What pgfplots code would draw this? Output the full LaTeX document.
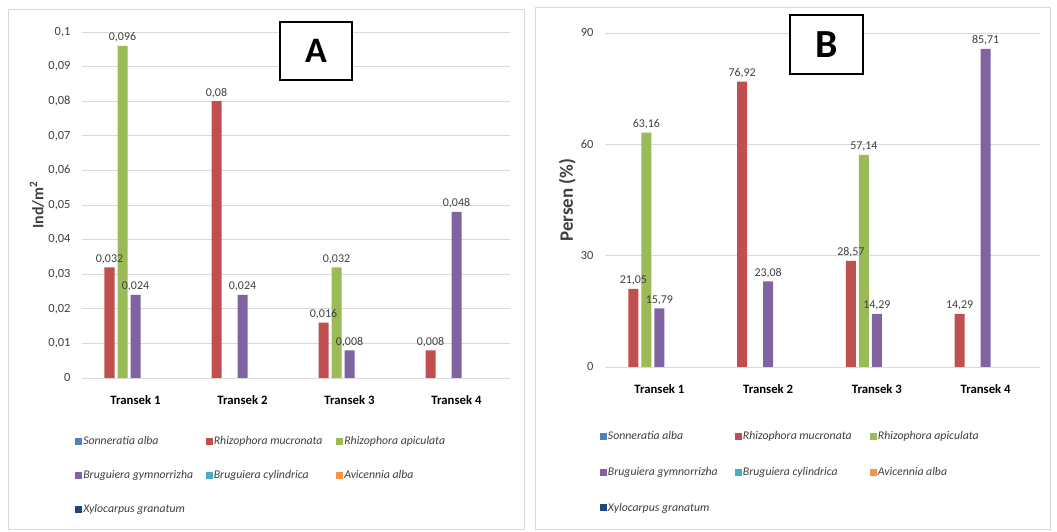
\documentclass[border=0pt]{standalone}
\usepackage{pgfplots}
\pgfplotsset{compat=1.18}
\usepackage{fontspec}
\setmainfont{Carlito}
\definecolor{cBlue}{HTML}{4F81BD}
\definecolor{cRed}{HTML}{C0504D}
\definecolor{cGreen}{HTML}{9BBB59}
\definecolor{cPurple}{HTML}{8064A2}
\definecolor{cAqua}{HTML}{4BACC6}
\definecolor{cOrange}{HTML}{F79646}
\definecolor{cNavy}{HTML}{1F497D}
\definecolor{gridc}{HTML}{D9D9D9}
\definecolor{txt}{HTML}{404040}
\pgfplotsset{
 mybar/.style={
  scale only axis, ybar=3bp, bar width=10bp,
  xmin=-0.5, xmax=3.5, xtick={0,1,2,3},
  xticklabels={Transek 1,Transek 2,Transek 3,Transek 4},
  axis line style={draw=none}, major tick length=0pt,
  ymajorgrids, grid style={gridc, line width=0.8bp},
  scaled y ticks=false,
  yticklabel style={font=\fontsize{12.5}{14}\selectfont, text=txt, xshift=-8bp},
  xticklabel style={font=\bfseries\fontsize{12.8}{14}\selectfont, yshift=-14bp, text=black},
  ylabel style={text=txt, anchor=center},
  /pgf/number format/.cd, use comma, assume math mode=true, /pgfplots/.cd,
  legend columns=3,
  legend style={draw=none, fill=none, inner sep=0pt, anchor=north west,
     nodes={inner sep=1bp, font=\itshape\fontsize{11.8}{13}\selectfont, text=txt}},
  legend cell align=left,
  legend image code/.code={\fill[##1] (0bp,-3.5bp) rectangle (7bp,3.5bp);},
  legend image post style={fill opacity=1},
  every node near coord/.append style={font=\fontsize{12}{14}\selectfont, text=txt},
  zerobar/.style={draw=none, fill opacity=0, nodes near coords={}},
 }
}
\begin{document}
\begin{tikzpicture}
\useasboundingbox (0,0) rectangle (1057bp,532bp);
\fill[white] (0,0) rectangle (1057bp,532bp);
\draw[gridc, line width=1bp] (8bp,2bp) rectangle (524bp,522bp);
\draw[gridc, line width=1bp] (535bp,2bp) rectangle (1050bp,524bp);
% Panel A
\begin{axis}[mybar, at={(82bp,154bp)}, anchor=south west, width=428bp, height=346bp,
  ymin=0, ymax=0.1, ytick={0,0.01,0.02,0.03,0.04,0.05,0.06,0.07,0.08,0.09,0.1},
  yticklabel style={/pgf/number format/fixed, /pgf/number format/precision=2},
  ylabel={Ind/m\textsuperscript{2}},
  ylabel style={at={(axis description cs:-0.105,0.5)}, font=\bfseries\fontsize{16}{18}\selectfont},
  nodes near coords={\pgfmathprintnumber[fixed,precision=3]{\pgfplotspointmeta}},
  legend style={at={(axis description cs:-0.016,-0.165)}, row sep=22.5bp},
]
\addplot[fill=cBlue, zerobar] coordinates {(0,0) (1,0) (2,0) (3,0)};
\addlegendentry{\makebox[121.5bp][l]{Sonneratia alba}}
\addplot[fill=cRed, draw=none] coordinates {(0,0.032) (1,0.08) (2,0.016) (3,0.008)};
\addlegendentry{\makebox[121.5bp][l]{Rhizophora mucronata}}
\addplot[fill=cGreen, draw=none] coordinates {(0,0.096) (2,0.032)};
\addlegendentry{\makebox[121.5bp][l]{Rhizophora apiculata}}
\addplot[fill=cPurple, draw=none] coordinates {(0,0.024) (1,0.024) (2,0.008) (3,0.048)};
\addlegendentry{\makebox[121.5bp][l]{Bruguiera gymnorrizha}}
\addplot[fill=cAqua, zerobar] coordinates {(0,0) (1,0) (2,0) (3,0)};
\addlegendentry{\makebox[121.5bp][l]{Bruguiera cylindrica}}
\addplot[fill=cOrange, zerobar] coordinates {(0,0) (1,0) (2,0) (3,0)};
\addlegendentry{\makebox[121.5bp][l]{Avicennia alba}}
\addplot[fill=cNavy, zerobar] coordinates {(0,0) (1,0) (2,0) (3,0)};
\addlegendentry{\makebox[121.5bp][l]{Xylocarpus granatum}}
\end{axis}
% Panel B
\begin{axis}[mybar, at={(605bp,165bp)}, anchor=south west, width=435bp, height=334bp,
  ymin=0, ymax=90, ytick={0,30,60,90},
  ylabel={Persen (\%)},
  ylabel style={at={(axis description cs:-0.087,0.5)}, font=\bfseries\fontsize{19}{21}\selectfont},
  nodes near coords={\pgfmathprintnumber[fixed,fixed zerofill,precision=2]{\pgfplotspointmeta}},
  legend style={at={(axis description cs:-0.012,-0.19)}, row sep=24bp},
]
\addplot[fill=cBlue, zerobar] coordinates {(0,0) (1,0) (2,0) (3,0)};
\addlegendentry{\makebox[126bp][l]{Sonneratia alba}}
\addplot[fill=cRed, draw=none] coordinates {(0,21.05) (1,76.92) (2,28.57) (3,14.29)};
\addlegendentry{\makebox[126bp][l]{Rhizophora mucronata}}
\addplot[fill=cGreen, draw=none] coordinates {(0,63.16) (2,57.14)};
\addlegendentry{\makebox[126bp][l]{Rhizophora apiculata}}
\addplot[fill=cPurple, draw=none] coordinates {(0,15.79) (1,23.08) (2,14.29) (3,85.71)};
\addlegendentry{\makebox[126bp][l]{Bruguiera gymnorrizha}}
\addplot[fill=cAqua, zerobar] coordinates {(0,0) (1,0) (2,0) (3,0)};
\addlegendentry{\makebox[126bp][l]{Bruguiera cylindrica}}
\addplot[fill=cOrange, zerobar] coordinates {(0,0) (1,0) (2,0) (3,0)};
\addlegendentry{\makebox[126bp][l]{Avicennia alba}}
\addplot[fill=cNavy, zerobar] coordinates {(0,0) (1,0) (2,0) (3,0)};
\addlegendentry{\makebox[126bp][l]{Xylocarpus granatum}}
\end{axis}
\node[draw=black, line width=1.5bp, fill=white, minimum width=72bp, minimum height=58bp, font=\bfseries\fontsize{36}{40}\selectfont] at (316bp,481bp) {A};
\node[draw=black, line width=1.5bp, fill=white, minimum width=73bp, minimum height=59bp, font=\bfseries\fontsize{40}{44}\selectfont] at (826.5bp,487.5bp) {B};
\end{tikzpicture}
\end{document}
